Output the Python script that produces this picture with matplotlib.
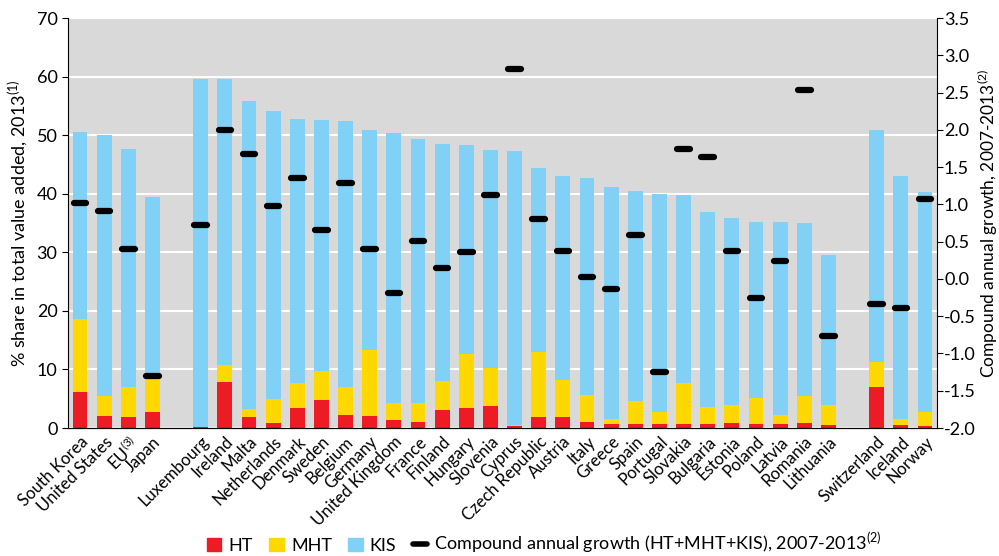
import numpy as np
import matplotlib.pyplot as plt
from matplotlib.patches import Patch
from matplotlib.lines import Line2D

plt.rcParams["font.family"] = ["Lato", "DejaVu Sans"]
plt.rcParams["mathtext.fontset"] = "custom"
plt.rcParams["mathtext.rm"] = "Lato"

# Countries, with gaps between the three groups
countries = ["South Korea", "United States", "EU$^{(3)}$", "Japan",
             "Luxembourg", "Ireland", "Malta", "Netherlands", "Denmark", "Sweden",
             "Belgium", "Germany", "United Kingdom", "France", "Finland", "Hungary",
             "Slovenia", "Cyprus", "Czech Republic", "Austria", "Italy", "Greece",
             "Spain", "Portugal", "Slovakia", "Bulgaria", "Estonia", "Poland",
             "Latvia", "Romania", "Lithuania",
             "Switzerland", "Iceland", "Norway"]
group_sizes = [4, 27, 3]

# % share in total value added, 2013
ht = [6.2, 2.1, 1.8, 2.7,
      0.1, 7.9, 1.9, 0.9, 3.5, 4.7, 2.3, 2.1, 1.3, 1.1, 3.1, 3.5, 3.7, 0.4,
      1.9, 1.8, 1.1, 0.6, 0.7, 0.6, 0.7, 0.7, 0.9, 0.7, 0.7, 0.9, 0.5,
      7.0, 0.5, 0.4]
mht = [12.4, 3.4, 5.2, 5.7,
       0.1, 2.8, 1.3, 4.1, 4.2, 5.0, 4.7, 11.3, 3.0, 3.2, 4.9, 9.2, 6.6, 0.1,
       11.1, 6.4, 4.5, 1.0, 3.9, 2.1, 6.9, 2.9, 3.0, 4.5, 1.5, 4.5, 3.5,
       4.3, 1.0, 2.3]
total = [50.6, 50.0, 47.7, 39.5,
         59.6, 59.6, 55.9, 54.1, 52.8, 52.6, 52.4, 50.8, 50.4, 49.3, 48.5, 48.3,
         47.5, 47.3, 44.4, 43.0, 42.6, 41.1, 40.5, 39.9, 39.7, 36.8, 35.8, 35.2,
         35.2, 35.0, 29.5,
         50.8, 43.0, 40.3]
kis = [t - h - m for t, h, m in zip(total, ht, mht)]

# Compound annual growth (HT+MHT+KIS), 2007-2013
growth = [1.02, 0.91, 0.40, -1.30,
          0.72, 2.00, 1.67, 0.98, 1.36, 0.65, 1.29, 0.40, -0.19, 0.51, 0.14,
          0.36, 1.13, 2.82, 0.80, 0.38, 0.03, -0.13, 0.59, -1.25, 1.74, 1.63,
          0.37, -0.26, 0.24, 2.54, -0.76,
          -0.33, -0.39, 1.07]

# x positions with one empty slot between groups
x = []
pos = 0
for g in group_sizes:
    x.extend(range(pos, pos + g))
    pos += g + 1
x = np.array(x)

c_ht = "#ED1C24"
c_mht = "#FFD800"
c_kis = "#80D1F5"

fig = plt.figure(figsize=(9.99, 5.56), dpi=100)
ax = fig.add_axes([0.068, 0.2302, 0.870, 0.7374])
ax.set_facecolor("#D9D9D9")

w = 0.62
ax.bar(x, ht, w, color=c_ht, zorder=2)
ax.bar(x, mht, w, bottom=ht, color=c_mht, zorder=2)
ax.bar(x, kis, w, bottom=np.array(ht) + np.array(mht), color=c_kis, zorder=2)

ax.set_xlim(-0.5, x[-1] + 0.5)
ax.set_ylim(0, 70)
ax.set_yticks(range(0, 71, 10))
ax.yaxis.grid(True, color="white", lw=1.5, zorder=1)
ax.set_axisbelow(True)
ax.set_xticks(x)
ax.set_xticklabels(countries, rotation=45, ha="right", rotation_mode="anchor",
                   fontsize=12)
ax.tick_params(axis="x", length=0, pad=4)
ax.tick_params(axis="y", labelsize=13, length=4)
ax.set_ylabel("% share in total value added, 2013$^{(1)}$", fontsize=13)
ax.spines["top"].set_visible(False)
ax.spines["right"].set_visible(False)

ax2 = ax.twinx()
ax2.set_ylim(-2.0, 3.5)
ax2.set_yticks(np.arange(-2.0, 3.51, 0.5))
ax2.set_yticklabels([f"{v:.1f}" for v in np.arange(-2.0, 3.51, 0.5)])
ax2.tick_params(axis="y", labelsize=13, length=4, pad=1)
ax2.hlines(growth, x - 0.26, x + 0.26, colors="black", lw=4.5, capstyle="round",
           zorder=3)
ax2.set_ylabel("Compound annual growth, 2007-2013$^{(2)}$", fontsize=12.5,
               labelpad=0)
ax2.spines["top"].set_visible(False)
ax2.spines["left"].set_visible(False)

handles = [Patch(color=c_ht, label="HT"),
           Patch(color=c_mht, label="MHT"),
           Patch(color=c_kis, label="KIS"),
           Line2D([0], [0], color="black", lw=4, solid_capstyle="round",
                  label="Compound annual growth (HT+MHT+KIS), 2007-2013$^{(2)}$")]
fig.legend(handles=handles, loc="lower center", bbox_to_anchor=(0.545, -0.03),
           ncol=4, frameon=False, fontsize=13, handlelength=0.8,
           handleheight=0.8, handletextpad=0.4, columnspacing=0.9)

fig.savefig("out.png", dpi=100)
